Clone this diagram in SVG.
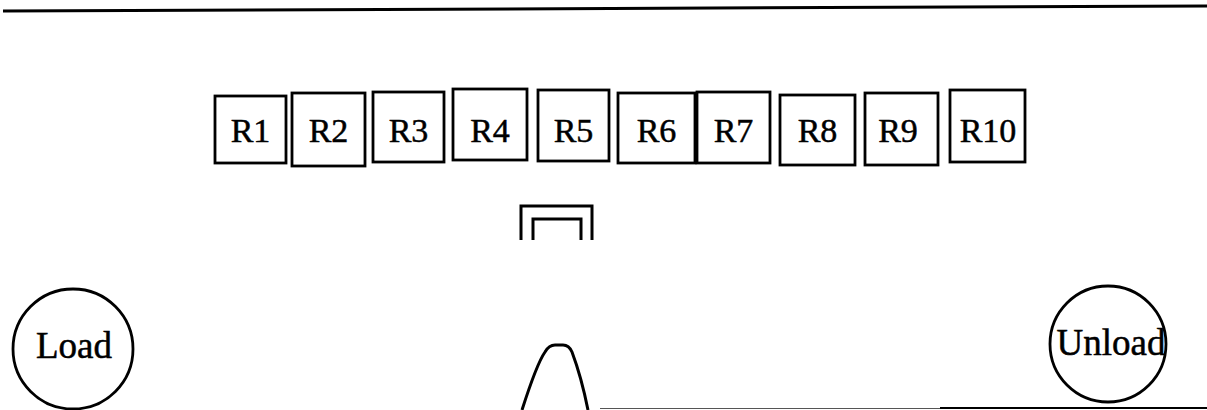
<svg xmlns="http://www.w3.org/2000/svg" width="1207" height="410" viewBox="0 0 1207 410">
<style>
.box{fill:none;stroke:#000;stroke-width:2.8}
.lbl{font-family:"Liberation Serif","Times New Roman",serif;font-size:34px;fill:#000;stroke:#000;stroke-width:0.5;text-anchor:middle}
.big{font-family:"Liberation Serif","Times New Roman",serif;font-size:37px;fill:#000;stroke:#000;stroke-width:0.5;text-anchor:middle}
.ln{fill:none;stroke:#000;stroke-width:3}
</style>
<rect width="1207" height="410" fill="#fff"/>
<g id="walls">
<line class="ln" x1="3" y1="11" x2="1207" y2="6"/>
<line x1="600" y1="408.5" x2="940" y2="408.5" stroke="#555" stroke-width="1.2"/>
<line x1="940" y1="408" x2="1207" y2="408" stroke="#000" stroke-width="2"/>
</g>
<g id="R1"><rect class="box" x="215" y="96" width="71" height="67"/><text class="lbl" x="250.5" y="142">R1</text></g>
<g id="R2"><rect class="box" x="292" y="93" width="73" height="73"/><text class="lbl" x="328.5" y="142">R2</text></g>
<g id="R3"><rect class="box" x="373" y="92" width="71" height="70"/><text class="lbl" x="408.5" y="142">R3</text></g>
<g id="R4"><rect class="box" x="453" y="89" width="74" height="71"/><text class="lbl" x="490" y="142">R4</text></g>
<g id="R5"><rect class="box" x="538" y="90" width="71" height="71"/><text class="lbl" x="573.5" y="142">R5</text></g>
<g id="R6"><rect class="box" x="618" y="93" width="77" height="70"/><text class="lbl" x="656.5" y="142">R6</text></g>
<g id="R7"><rect class="box" x="697" y="92" width="73" height="71"/><text class="lbl" x="733.5" y="142">R7</text></g>
<g id="R8"><rect class="box" x="780" y="95" width="75" height="70"/><text class="lbl" x="817.5" y="142">R8</text></g>
<g id="R9"><rect class="box" x="865" y="93" width="73" height="72"/><text class="lbl" x="898" y="142">R9</text></g>
<g id="R10"><rect class="box" x="950" y="90" width="75" height="72"/><text class="lbl" x="988" y="142">R10</text></g>
<g id="gripper">
<path class="ln" d="M521,240 V206 H592 V240"/>
<path class="ln" d="M533,240 V219 H581 V240"/>
</g>
<g id="robot">
<path class="ln" d="M522,410 C530,385 538,362 545,352 Q549,345 555,345 L563,345 Q569,345 572,352 C578,368 584,390 588,410"/>
</g>
<g id="Load"><circle class="box" cx="73" cy="349" r="60"/><text class="big" x="74" y="358">Load</text></g>
<g id="Unload"><circle class="box" cx="1108" cy="344" r="58"/><text class="big" x="1111" y="355">Unload</text></g>
<g id="connectors"></g>
</svg>
